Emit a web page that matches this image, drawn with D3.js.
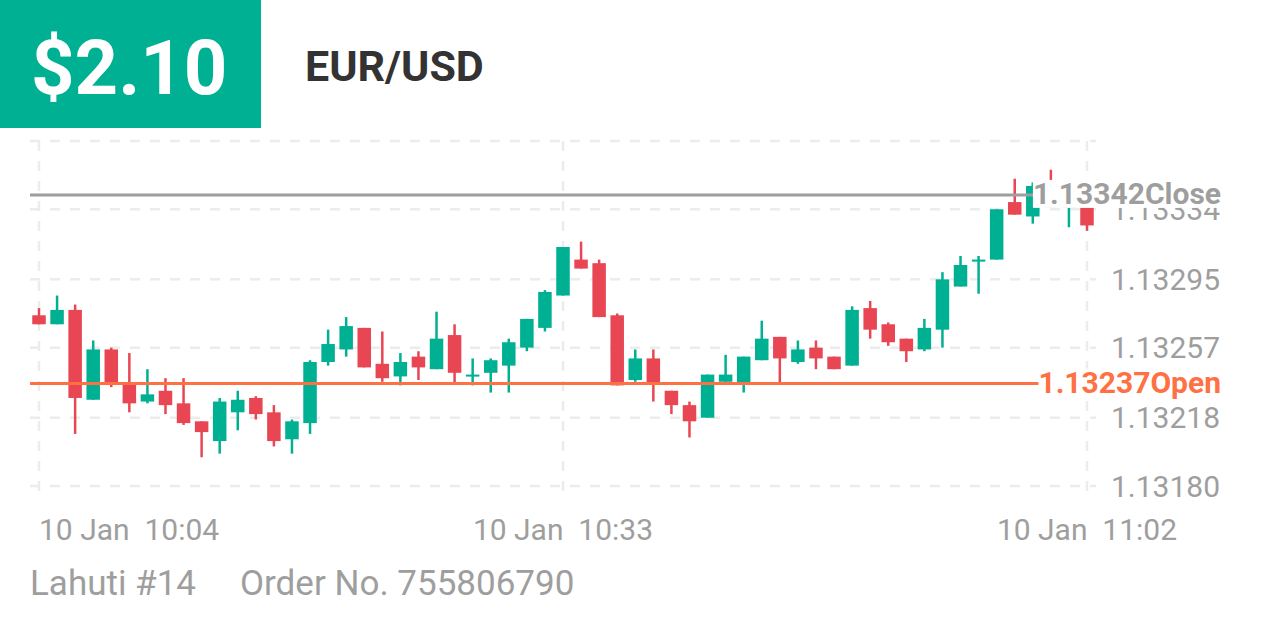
<!DOCTYPE html>
<html>
<head>
<meta charset="utf-8">
<script src="https://cdn.jsdelivr.net/npm/d3@7"></script>
<style>
  body { margin: 0; background: #fff; }
  svg { display: block; font-family: Roboto, "Noto Sans", sans-serif; }
</style>
</head>
<body>
<svg id="chart" width="1266" height="633"></svg>
<script>
// Candle minutes (one candle per minute)
const times = ["10:04","10:05","10:06","10:07","10:08","10:09","10:10","10:11","10:12","10:13",
  "10:14","10:15","10:16","10:17","10:18","10:19","10:20","10:21","10:22","10:23",
  "10:24","10:25","10:26","10:27","10:28","10:29","10:30","10:31","10:32","10:33",
  "10:34","10:35","10:36","10:37","10:38","10:39","10:40","10:41","10:42","10:43",
  "10:44","10:45","10:46","10:47","10:48","10:49","10:50","10:51","10:52","10:53",
  "10:54","10:55","10:56","10:57","10:58","10:59","11:00","11:01","11:02"];

// OHLC values
const opens = [1.13275,1.13270,1.13278,1.13228,1.13256,1.13237,1.13227,1.13233,1.13226,1.13216,
  1.13205,1.13221,1.13229,1.13221,1.13206,1.13215,1.13249,1.13256,1.13268,1.13248,
  1.13241,1.13252,1.13245,1.13264,1.13241,1.13243,1.13247,1.13257,1.13268,1.13286,
  1.13306,1.13304,1.13275,1.13239,1.13251,1.13233,1.13225,1.13218,1.13238,1.13237,
  1.13250,1.13263,1.13249,1.13257,1.13252,1.13247,1.13279,1.13270,1.13262,1.13256,
  1.13267,1.13291,1.13305,1.13306,1.13338,1.13330,1.13347,1.13335,1.13337];
const highs = [1.13279,1.13286,1.13281,1.13261,1.13257,1.13254,1.13245,1.13240,1.13240,1.13216,
  1.13229,1.13233,1.13230,1.13225,1.13217,1.13250,1.13267,1.13274,1.13268,1.13266,
  1.13254,1.13255,1.13277,1.13270,1.13251,1.13251,1.13262,1.13273,1.13289,1.13313,
  1.13316,1.13306,1.13276,1.13256,1.13256,1.13233,1.13227,1.13242,1.13253,1.13252,
  1.13272,1.13263,1.13261,1.13261,1.13252,1.13280,1.13283,1.13271,1.13262,1.13273,
  1.13299,1.13308,1.13308,1.13334,1.13351,1.13349,1.13356,1.13336,1.13337];
const lows = [1.13270,1.13270,1.13209,1.13228,1.13235,1.13221,1.13226,1.13220,1.13214,1.13196,
  1.13198,1.13211,1.13217,1.13202,1.13198,1.13209,1.13247,1.13252,1.13246,1.13238,
  1.13236,1.13239,1.13245,1.13237,1.13236,1.13232,1.13232,1.13255,1.13266,1.13286,
  1.13301,1.13274,1.13236,1.13238,1.13227,1.13220,1.13207,1.13218,1.13238,1.13232,
  1.13250,1.13237,1.13248,1.13245,1.13245,1.13247,1.13262,1.13258,1.13249,1.13255,
  1.13257,1.13291,1.13287,1.13306,1.13331,1.13326,1.13335,1.13324,1.13322];
const closes = [1.13270,1.13278,1.13229,1.13256,1.13237,1.13226,1.13231,1.13225,1.13215,1.13210,
  1.13227,1.13228,1.13220,1.13205,1.13216,1.13249,1.13259,1.13269,1.13246,1.13240,
  1.13249,1.13246,1.13262,1.13243,1.13242,1.13250,1.13260,1.13273,1.13288,1.13313,
  1.13301,1.13274,1.13236,1.13251,1.13237,1.13225,1.13216,1.13242,1.13242,1.13252,
  1.13262,1.13251,1.13256,1.13251,1.13245,1.13278,1.13267,1.13260,1.13255,1.13268,
  1.13295,1.13303,1.13306,1.13334,1.13331,1.13347,1.13335,1.13336,1.13325];

// axis ticks
const yTicks = [1.13180, 1.13218, 1.13257, 1.13295, 1.13334, 1.13372];
const yTickLabels = ["1.13180", "1.13218", "1.13257", "1.13295", "1.13334", ""];
const xTicks = ["10:04", "10:33", "11:02"];
const xTickLabels = ["10 Jan  10:04", "10 Jan  10:33", "10 Jan  11:02"];

// open / close markers and header texts
const openPrice = 1.13237, closePrice = 1.13342;
const profitText = "$2.10";
const symbolText = "EUR/USD";
const footerTexts = ["Lahuti #14", "Order No. 755806790"];

const GREEN = "#00b092", RED = "#e94653", ORANGE = "#ff7043", GREY = "#9e9e9e";

const candles = times.map((t, i) => ({ t, o: opens[i], h: highs[i], l: lows[i], c: closes[i] }));

const svg = d3.select("#chart");

// header box
svg.append("rect").attr("x", 0).attr("y", 0).attr("width", 261).attr("height", 128).attr("fill", GREEN);
svg.append("text").attr("x", 31).attr("y", 94)
  .attr("fill", "#fff").attr("font-size", 76).attr("font-weight", 700).text(profitText);
svg.append("text").attr("x", 305).attr("y", 81)
  .attr("fill", "#333").attr("font-size", 43).attr("font-weight", 700).text(symbolText);

// scales
const x = d3.scalePoint().domain(times).range([39, 1087]);
const y = d3.scaleLinear().domain([1.13180, 1.13372]).range([486, 141]);

// grid
const grid = svg.append("g").attr("stroke", "#ececec").attr("stroke-width", 2.5).attr("stroke-dasharray", "10,10");
grid.selectAll(".hg").data(yTicks).enter().append("line")
  .attr("x1", 30).attr("x2", 1096)
  .attr("y1", d => y(d)).attr("y2", d => y(d));
grid.selectAll(".vg").data(xTicks).enter().append("line")
  .attr("x1", d => x(d)).attr("x2", d => x(d))
  .attr("y1", 141).attr("y2", 491);

// candles
const bodyW = 13.5;
const cg = svg.append("g");
cg.selectAll(".wick").data(candles).enter().append("line")
  .attr("x1", d => x(d.t)).attr("x2", d => x(d.t))
  .attr("y1", d => y(d.h)).attr("y2", d => y(d.l))
  .attr("stroke", d => d.c >= d.o ? GREEN : RED).attr("stroke-width", 2.5);
cg.selectAll(".body").data(candles).enter().append("rect")
  .attr("x", d => x(d.t) - bodyW / 2)
  .attr("y", d => y(Math.max(d.o, d.c)))
  .attr("width", bodyW)
  .attr("height", d => Math.max(2, Math.abs(y(d.o) - y(d.c))))
  .attr("fill", d => d.c >= d.o ? GREEN : RED);

// y tick labels
svg.append("g").selectAll("text").data(yTicks).enter().append("text")
  .attr("x", 1220).attr("y", d => y(d) + 10.5)
  .attr("text-anchor", "end").attr("font-size", 30).attr("fill", GREY)
  .text((d, i) => yTickLabels[i]);

// x tick labels (first one sits right of its line)
svg.append("g").selectAll("text").data(xTicks).enter().append("text")
  .attr("x", d => x(d)).attr("y", 540)
  .attr("text-anchor", (d, i) => i === 0 ? "start" : "middle")
  .attr("font-size", 30).attr("fill", GREY)
  .style("white-space", "pre")
  .text((d, i) => xTickLabels[i]);

// open and close lines with labels
function priceLine(price, color, label, lineEnd) {
  svg.append("line")
    .attr("x1", 30).attr("x2", lineEnd)
    .attr("y1", y(price)).attr("y2", y(price))
    .attr("stroke", color).attr("stroke-width", 3);
  const t = svg.append("text")
    .attr("x", 1221).attr("y", y(price) + 9)
    .attr("text-anchor", "end").attr("font-size", 30).attr("font-weight", 700)
    .attr("fill", color).text(label);
  const bb = t.node().getBBox();
  svg.insert("rect", () => t.node())
    .attr("x", bb.x).attr("y", y(price) - 15)
    .attr("width", bb.width).attr("height", 28).attr("fill", "#fff");
}
priceLine(closePrice, GREY, closePrice.toFixed(5) + "Close", 1036);
priceLine(openPrice, ORANGE, openPrice.toFixed(5) + "Open", 1040);

// footer
svg.append("text").attr("x", 30).attr("y", 595).attr("font-size", 35).attr("fill", GREY).text(footerTexts[0]);
svg.append("text").attr("x", 240).attr("y", 595).attr("font-size", 35).attr("fill", GREY).text(footerTexts[1]);
</script>
</body>
</html>
